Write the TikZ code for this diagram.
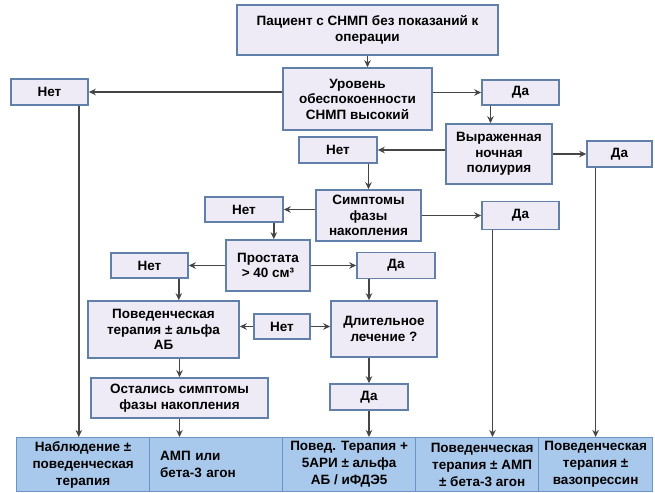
\documentclass[tikz,border=0pt]{standalone}
\usepackage{fontspec}
\setmainfont{Liberation Sans}
\usetikzlibrary{arrows.meta}
\definecolor{boxfill}{HTML}{EEEBF6}
\definecolor{boxline}{HTML}{6080AA}
\definecolor{endfill}{HTML}{A9C9EC}
\definecolor{endline}{HTML}{6B94C6}
\definecolor{wire}{HTML}{454545}

\begin{document}
\begin{tikzpicture}[x=1pt, y=-1pt,
  blk/.style={draw=boxline, fill=boxfill, line width=1.6pt, inner sep=1pt, align=center,
    font=\fontsize{13.5}{15.5}\selectfont\bfseries},
  res/.style={draw=endline, fill=endfill, line width=1.2pt, inner sep=1pt, align=center,
    anchor=north west, minimum height=54pt, minimum width=133pt,
    font=\fontsize{13.5}{17}\selectfont\bfseries},
  arr/.style={draw=wire, line width=1.4pt, -{Stealth[length=7pt,width=6.5pt]}}]
\useasboundingbox (0,0) rectangle (655,492);

\node[blk, minimum width=261pt, minimum height=50pt] (top) at (367.5,30) {Пациент с СНМП без показаний к\\операции};
\node[blk, minimum width=149pt, minimum height=62pt] (level) at (357.5,99) {Уровень\\обеспокоенности\\СНМП высокий};
\node[blk, minimum width=77pt, minimum height=26pt] (netA) at (49.5,92) {Нет};
\node[blk, minimum width=77pt, minimum height=25pt] (daA) at (520.5,92.5) {Да};
\node[blk, minimum width=106pt, minimum height=60pt] (noct) at (499,154) {Выраженная\\ночная\\полиурия};
\node[blk, minimum width=78pt, minimum height=26pt] (netB) at (338,150) {Нет};
\node[blk, minimum width=65pt, minimum height=26pt] (daB) at (619.5,154) {Да};
\node[blk, minimum width=105pt, minimum height=51pt] (symp) at (368.5,215.5) {Симптомы\\фазы\\накопления};
\node[blk, minimum width=78pt, minimum height=25pt] (netC) at (244,209.5) {Нет};
\node[blk, minimum width=77pt, minimum height=28pt] (daC) at (520.5,215.5) {Да};
\node[blk, minimum width=84pt, minimum height=51pt] (prost) at (268,265.5) {Простата\\> 40 см³};
\node[blk, minimum width=77pt, minimum height=25pt] (netD) at (149.5,265.5) {Нет};
\node[blk, minimum width=78pt, minimum height=26pt] (daD) at (396,265.5) {Да};
\node[blk, minimum width=151pt, minimum height=57pt] (behav) at (163.5,329.5) {Поведенческая\\терапия ± альфа\\АБ};
\node[blk, minimum width=56pt, minimum height=25pt] (netE) at (282,326.5) {Нет};
\node[blk, minimum width=106pt, minimum height=56pt] (long) at (384,329) {Длительное\\лечение ?};
\node[blk, minimum width=78pt, minimum height=26pt] (daE) at (369,397) {Да};
\node[blk, minimum width=177pt, minimum height=40pt] (left) at (179.5,398) {Остались симптомы\\фазы накопления};

\node[res] (b1) at (16,437) {Наблюдение ±\\поведенческая\\терапия};
\node[res, text width=112pt, align=left] (b2) at (149,437) {АМП или\\бета-3 агон};
\node[res] (b3) at (282,437) {Повед. Терапия +\\5АРИ ± альфа\\АБ / иФДЭ5};
\node[res] (b4) at (415,437) {Поведенческая\\терапия ± АМП\\± бета-3 агон};
\node[res, minimum width=114pt] (b5) at (538,437) {Поведенческая\\терапия ±\\вазопрессин};

\draw[arr] (top.south) -- (top.south |- level.north);
\draw[arr] (level.west |- netA.east) -- (netA.east);
\draw[arr] (level.east |- daA.west) -- (daA.west);
\draw[arr] ([xshift=-30pt]daA.south) -- ([xshift=-30pt]daA.south |- noct.north);
\draw[arr] (noct.west |- netB.east) -- (netB.east);
\draw[arr] (noct.east) -- (noct.east -| daB.west);
\draw[arr] (netB.south -| symp.north) -- (symp.north);
\draw[arr] (symp.west |- netC.east) -- (netC.east);
\draw[arr] (symp.east) -- (symp.east -| daC.west);
\draw[arr] ([xshift=-10pt]netC.south east) -- ([xshift=-10pt]netC.south east |- prost.north);
\draw[arr] (prost.west |- netD.east) -- (netD.east);
\draw[arr] (prost.east |- daD.west) -- (daD.west);
\draw[arr] ([xshift=-10pt]netD.south east) -- ([xshift=-10pt]netD.south east |- behav.north);
\draw[arr] (behav.south -| left.north) -- (left.north);
\draw[arr] (left.south) -- (left.south |- b2.north);
\draw[arr] (netE.west) -- (netE.west -| behav.east);
\draw[arr] (netE.east) -- (netE.east -| long.west);
\draw[arr] (daD.south -| daE.north) -- (long.north -| daE.north);
\draw[arr] (long.south -| daE.north) -- (daE.north);
\draw[arr] (daE.south) -- (daE.south |- b3.north);
\draw[arr] ([xshift=-28pt]daC.south) -- ([xshift=-28pt]daC.south |- b4.north);
\draw[arr] (daB.south -| b5.north) -- (b5.north);
\draw[arr] ([xshift=-10pt]netA.south east) -- ([xshift=-10pt]netA.south east |- b1.north);
\end{tikzpicture}
\end{document}
